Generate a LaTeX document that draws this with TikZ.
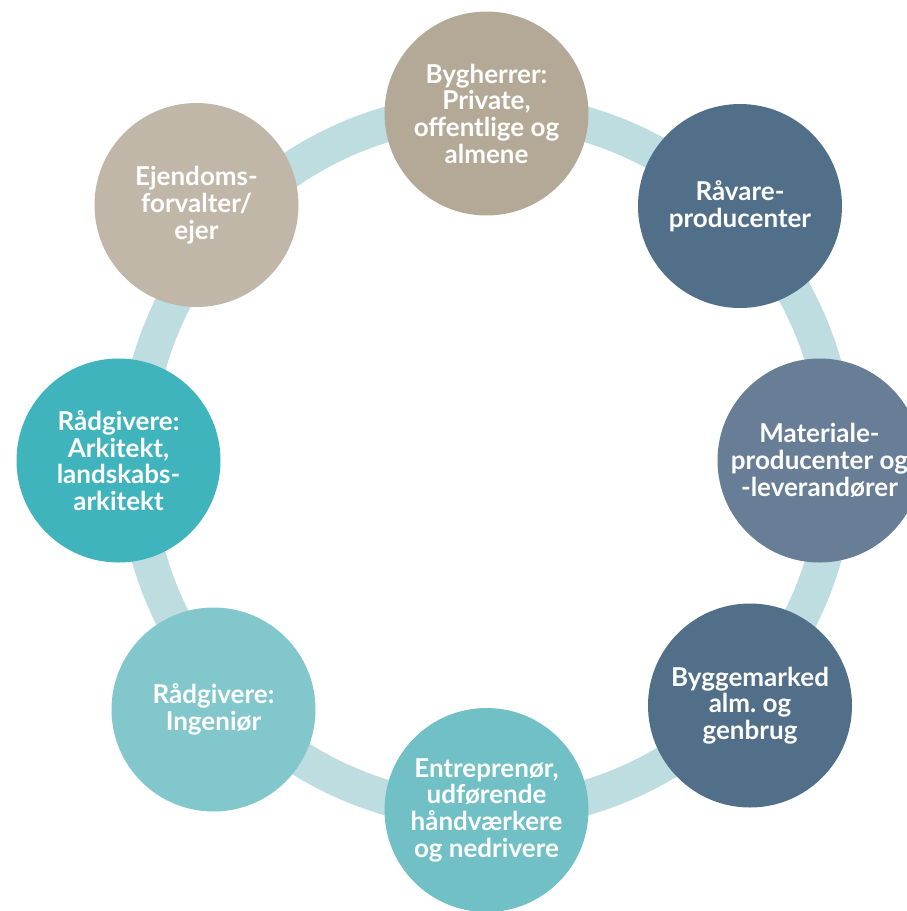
\documentclass[tikz,border=0pt]{standalone}
\usepackage{fontspec}
\setmainfont{Lato}
\frenchspacing
\definecolor{ringblue}{HTML}{BDDDE1}
\definecolor{taupe}{HTML}{B4A996}
\definecolor{lighttaupe}{HTML}{C1B7A8}
\definecolor{slate}{HTML}{526F89}
\definecolor{lightslate}{HTML}{687E96}
\definecolor{teal}{HTML}{40B4BC}
\definecolor{midteal}{HTML}{70C0C6}
\definecolor{paleteal}{HTML}{82C7CC}
\tikzset{aktor/.style={circle,minimum size=204pt,inner sep=0pt,text=white,align=center,
    font=\bfseries\fontsize{26}{26.7}\selectfont}}

\begin{document}
\begin{tikzpicture}[x=1pt,y=-1pt]
            \useasboundingbox (0,0) rectangle (907,911);
            \clip (0,0) rectangle (907,911);
            \coordinate (midte) at (486.5,461);
            \draw[ringblue,line width=35pt] (midte) circle (351pt);

            \node[aktor,fill=taupe]      (bygherrer)    at (486.5,113.5) {Bygherrer:\\Private,\\offentlige og\\almene};
            \node[aktor,fill=slate]      (raavare)      at (740,206)     {Råvare-\\producenter};
            \node[aktor,fill=lightslate] (materiale)    at (819.5,460.5) {Materiale-\\producenter og\\-leverandører};
            \node[aktor,fill=slate]      (byggemarked)  at (750,705.5)   {Byggemarked\\alm. og\\genbrug};
            \node[aktor,fill=midteal]    (entreprenoer) at (486.5,810)   {Entreprenør,\\udførende\\håndværkere\\og nedrivere};
            \node[aktor,fill=paleteal]   (ingenioer)    at (213.5,709.5) {Rådgivere:\\Ingeniør};
            \node[aktor,fill=teal]       (arkitekt)     at (118.5,460.5) {Rådgivere:\\Arkitekt,\\landskabs-\\arkitekt};
            \node[aktor,fill=lighttaupe] (ejendom)      at (196.5,205)   {Ejendoms-\\forvalter/\\ejer};
        \end{tikzpicture}
\end{document}
